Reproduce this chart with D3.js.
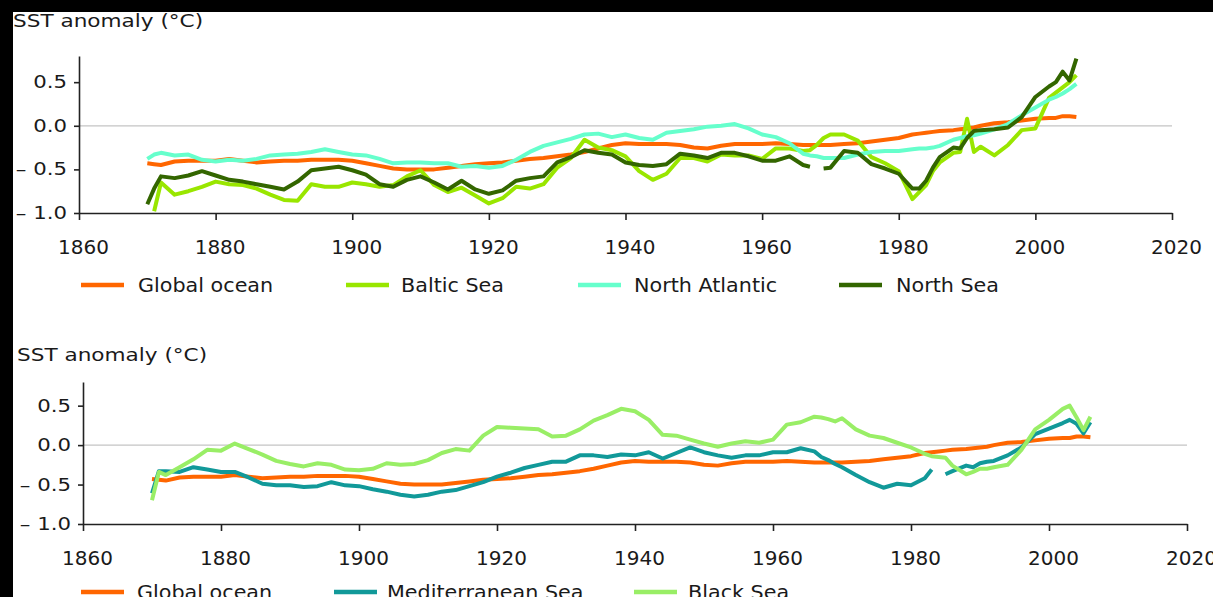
<!DOCTYPE html>
<html lang="en">
<head>
<meta charset="UTF-8">
<title>SST anomaly</title>
<style>
    body {
        margin: 0;
        background-color: #000;
    }
    svg {
        display: block;
    }
    text {
        font-family: "DejaVu Sans", Verdana, sans-serif;
        fill: #1a1a1a;
    }
</style>
<script src="https://d3js.org/d3.v7.min.js"></script>
</head>
<body>
<svg width="1213" height="597"></svg>
<script>
// years (extra years where a line breaks or spikes)
const years = [
    1870, 1871, 1872, 1874, 1876, 1878,
    1880, 1882, 1884, 1886, 1888, 1890, 1892, 1894, 1896, 1898,
    1900, 1902, 1904, 1906, 1908, 1910, 1912, 1914, 1916, 1918,
    1920, 1922, 1924, 1926, 1928, 1930, 1932, 1934, 1936, 1938,
    1940, 1942, 1944, 1946, 1948, 1950, 1952, 1954, 1956, 1958,
    1960, 1962, 1964, 1966, 1967, 1968, 1969,
    1970, 1972, 1974, 1976, 1978,
    1980, 1982, 1983, 1984, 1985, 1986, 1988, 1989,
    1990, 1991, 1992, 1994, 1996, 1998,
    2000, 2002, 2003, 2004, 2005, 2006
];

const globalOcean = [
    -0.43, -0.44, -0.45, -0.41, -0.40, -0.40,
    -0.40, -0.38, -0.40, -0.42, -0.41, -0.40, -0.40, -0.39, -0.39, -0.39,
    -0.40, -0.43, -0.46, -0.49, -0.50, -0.50, -0.50, -0.48, -0.46, -0.44,
    -0.43, -0.42, -0.40, -0.38, -0.37, -0.35, -0.33, -0.30, -0.26, -0.22,
    -0.20, -0.21, -0.21, -0.21, -0.22, -0.25, -0.26, -0.23, -0.21, -0.21,
    -0.21, -0.20, -0.21, -0.22, -0.22, -0.22, -0.22,
    -0.22, -0.21, -0.20, -0.18, -0.16,
    -0.14, -0.10, -0.09, -0.08, -0.07, -0.06, -0.05, -0.04,
    -0.03, -0.02, 0.00, 0.03, 0.04, 0.06,
    0.08, 0.09, 0.09, 0.11, 0.11, 0.10
];

const balticSea = [
    null, -0.98, -0.65, -0.79, -0.75, -0.70,
    -0.64, -0.67, -0.68, -0.72, -0.79, -0.85, -0.86, -0.67, -0.70, -0.70,
    -0.65, -0.67, -0.70, -0.68, -0.58, -0.51, -0.68, -0.76, -0.71, -0.80,
    -0.89, -0.83, -0.70, -0.72, -0.67, -0.48, -0.37, -0.16, -0.25, -0.28,
    -0.35, -0.52, -0.62, -0.55, -0.37, -0.37, -0.41, -0.33, -0.34, -0.34,
    -0.38, -0.26, -0.26, -0.29, -0.28, -0.22, -0.14,
    -0.10, -0.10, -0.17, -0.36, -0.43,
    -0.52, -0.84, -0.76, -0.68, -0.52, -0.42, -0.31, -0.30,
    0.08, -0.30, -0.24, -0.34, -0.22, -0.05,
    -0.03, 0.32, 0.38, 0.44, 0.50, 0.58
];

const northAtlantic = [
    -0.38, -0.33, -0.31, -0.34, -0.33, -0.39,
    -0.41, -0.39, -0.40, -0.38, -0.34, -0.33, -0.32, -0.30, -0.27, -0.30,
    -0.33, -0.34, -0.38, -0.43, -0.42, -0.42, -0.43, -0.43, -0.47, -0.46,
    -0.48, -0.46, -0.39, -0.30, -0.23, -0.19, -0.15, -0.10, -0.09, -0.13,
    -0.10, -0.14, -0.16, -0.08, -0.06, -0.04, -0.01, 0.00, 0.02, -0.03,
    -0.10, -0.13, -0.20, -0.32, -0.34, -0.35, -0.37,
    -0.37, -0.37, -0.33, -0.30, -0.29,
    -0.29, -0.27, -0.26, -0.26, -0.25, -0.23, -0.16, -0.14,
    -0.12, -0.11, -0.09, -0.04, 0.02, 0.12,
    0.21, 0.30, 0.33, 0.37, 0.42, 0.48
];

const northSea = [
    -0.90, -0.72, -0.58, -0.60, -0.57, -0.52,
    -0.57, -0.62, -0.64, -0.67, -0.70, -0.73, -0.64, -0.51, -0.49, -0.47,
    -0.51, -0.56, -0.67, -0.70, -0.62, -0.58, -0.65, -0.73, -0.63, -0.73,
    -0.78, -0.74, -0.63, -0.60, -0.58, -0.42, -0.36, -0.28, -0.31, -0.33,
    -0.42, -0.45, -0.46, -0.44, -0.32, -0.34, -0.37, -0.31, -0.31, -0.35,
    -0.40, -0.40, -0.35, -0.45, -0.47, null, -0.49,
    -0.48, -0.29, -0.31, -0.44, -0.49,
    -0.55, -0.72, -0.72, -0.63, -0.48, -0.36, -0.25, -0.26,
    -0.14, -0.06, -0.05, -0.04, -0.02, 0.10,
    0.33, 0.45, 0.50, 0.62, 0.52, 0.77
];

const mediterraneanSea = [
    -0.61, -0.33, -0.33, -0.34, -0.28, -0.31,
    -0.34, -0.34, -0.41, -0.49, -0.51, -0.51, -0.53, -0.52, -0.47, -0.51,
    -0.52, -0.56, -0.59, -0.63, -0.65, -0.63, -0.59, -0.57, -0.52, -0.47,
    -0.40, -0.35, -0.29, -0.25, -0.21, -0.21, -0.13, -0.13, -0.15, -0.12,
    -0.13, -0.09, -0.17, -0.10, -0.03, -0.09, -0.13, -0.16, -0.13, -0.13,
    -0.09, -0.09, -0.04, -0.08, -0.15, -0.19, -0.24,
    -0.28, -0.38, -0.47, -0.54, -0.49,
    -0.51, -0.42, -0.31, null, -0.37, -0.33, -0.26, -0.28,
    -0.23, -0.21, -0.20, -0.13, -0.03, 0.14,
    0.21, 0.28, 0.32, 0.27, 0.15, 0.29
];

const blackSea = [
    -0.70, -0.34, -0.38, -0.28, -0.18, -0.06,
    -0.07, 0.02, -0.05, -0.12, -0.20, -0.24, -0.27, -0.23, -0.25, -0.31,
    -0.32, -0.30, -0.23, -0.25, -0.24, -0.19, -0.10, -0.05, -0.07, 0.12,
    0.23, 0.22, 0.21, 0.20, 0.11, 0.12, 0.20, 0.31, 0.38, 0.46,
    0.43, 0.32, 0.13, 0.12, 0.07, 0.02, -0.02, 0.02, 0.05, 0.03,
    0.07, 0.26, 0.29, 0.36, 0.35, 0.33, 0.30,
    0.34, 0.20, 0.12, 0.09, 0.03,
    -0.03, -0.11, -0.14, -0.15, -0.16, -0.26, -0.37, -0.34,
    -0.30, -0.30, -0.28, -0.25, -0.06, 0.20,
    0.32, 0.46, 0.50, 0.35, 0.19, 0.36
];

const xTicks = [1860, 1880, 1900, 1920, 1940, 1960, 1980, 2000, 2020];
const yTicks = [-1.0, -0.5, 0.0, 0.5];
const yTitle = "SST anomaly (°C)";

const svg = d3.select("svg");

// white page, black frame left and top
svg.append("rect")
    .attr("x", 13).attr("y", 12)
    .attr("width", 1200).attr("height", 585)
    .attr("fill", "#fff");

const panels = [
    {
        left: 79, right: 1172, top: 56, bottom: 213, titleY: 27, titleX: 13,
        legendY: 285,
        series: [
            { name: "Global ocean", values: globalOcean, color: "#ff6600", lx: 81, tx: 138 },
            { name: "Baltic Sea", values: balticSea, color: "#99e600", lx: 346, tx: 401 },
            { name: "North Atlantic", values: northAtlantic, color: "#66ffcc", lx: 578, tx: 634 },
            { name: "North Sea", values: northSea, color: "#336600", lx: 839, tx: 896 }
        ]
    },
    {
        left: 83, right: 1187, top: 382, bottom: 524, titleY: 361, titleX: 17,
        legendY: 592,
        series: [
            { name: "Global ocean", values: globalOcean, color: "#ff6600", lx: 81, tx: 137 },
            { name: "Mediterranean Sea", values: mediterraneanSea, color: "#119999", lx: 334, tx: 387 },
            { name: "Black Sea", values: blackSea, color: "#99ee66", lx: 634, tx: 688 }
        ]
    }
];

// stretched text, like the wide font of the original
function wideText(parent, str, x, y, size, k, anchor) {
    return parent.append("text")
        .attr("transform", `translate(${x},${y}) scale(${k},1)`)
        .attr("text-anchor", anchor || "start")
        .style("font-size", size + "px")
        .text(str);
}

panels.forEach(p => {
    const x = d3.scaleLinear().domain([1860, 2020]).range([p.left, p.right]);
    const y = d3.scaleLinear().domain([-1, 0.8]).range([p.bottom, p.top]);
    const g = svg.append("g");

    wideText(g, yTitle, p.titleX, p.titleY, 17, 1.27);

    // zero line
    g.append("line")
        .attr("x1", x(1860)).attr("x2", x(2020))
        .attr("y1", y(0)).attr("y2", y(0))
        .attr("stroke", "#c4c4c4")
        .attr("stroke-width", 1.2);

    const line = d3.line()
        .defined(d => d[1] != null)
        .x(d => x(d[0]))
        .y(d => y(d[1]));

    p.series.forEach(s => {
        g.append("path")
            .datum(years.map((yr, i) => [yr, s.values[i]]))
            .attr("d", line)
            .attr("fill", "none")
            .attr("stroke", s.color)
            .attr("stroke-width", 4)
            .attr("stroke-linejoin", "round");
    });

    // axes
    const yAxis = g.append("g")
        .attr("transform", `translate(${p.left},0)`)
        .call(d3.axisLeft(y).tickValues(yTicks).tickSize(5).tickSizeOuter(0)
            .tickFormat(d => d < 0 ? "\u2013 " + Math.abs(d).toFixed(1) : d.toFixed(1)));
    yAxis.selectAll("text")
        .attr("x", -12 / 1.25)
        .attr("transform", "scale(1.25,1)")
        .style("font-size", "17px")
        .attr("fill", "#1a1a1a");

    const xAxis = g.append("g")
        .attr("transform", `translate(0,${p.bottom})`)
        .call(d3.axisBottom(x).tickValues(xTicks).tickSize(7).tickSizeOuter(0)
            .tickPadding(20).tickFormat(d3.format("d")));
    xAxis.selectAll("text")
        .attr("dx", 4)
        .style("font-size", "20px")
        .attr("fill", "#1a1a1a");

    g.selectAll(".domain, .tick line")
        .attr("stroke", "#222")
        .attr("stroke-width", 1.6);

    // legend
    p.series.forEach(s => {
        g.append("line")
            .attr("x1", s.lx).attr("x2", s.lx + 43)
            .attr("y1", p.legendY).attr("y2", p.legendY)
            .attr("stroke", s.color)
            .attr("stroke-width", 4.5);
        wideText(g, s.name, s.tx, p.legendY + 7, 19, 1.09);
    });
});
</script>
</body>
</html>
